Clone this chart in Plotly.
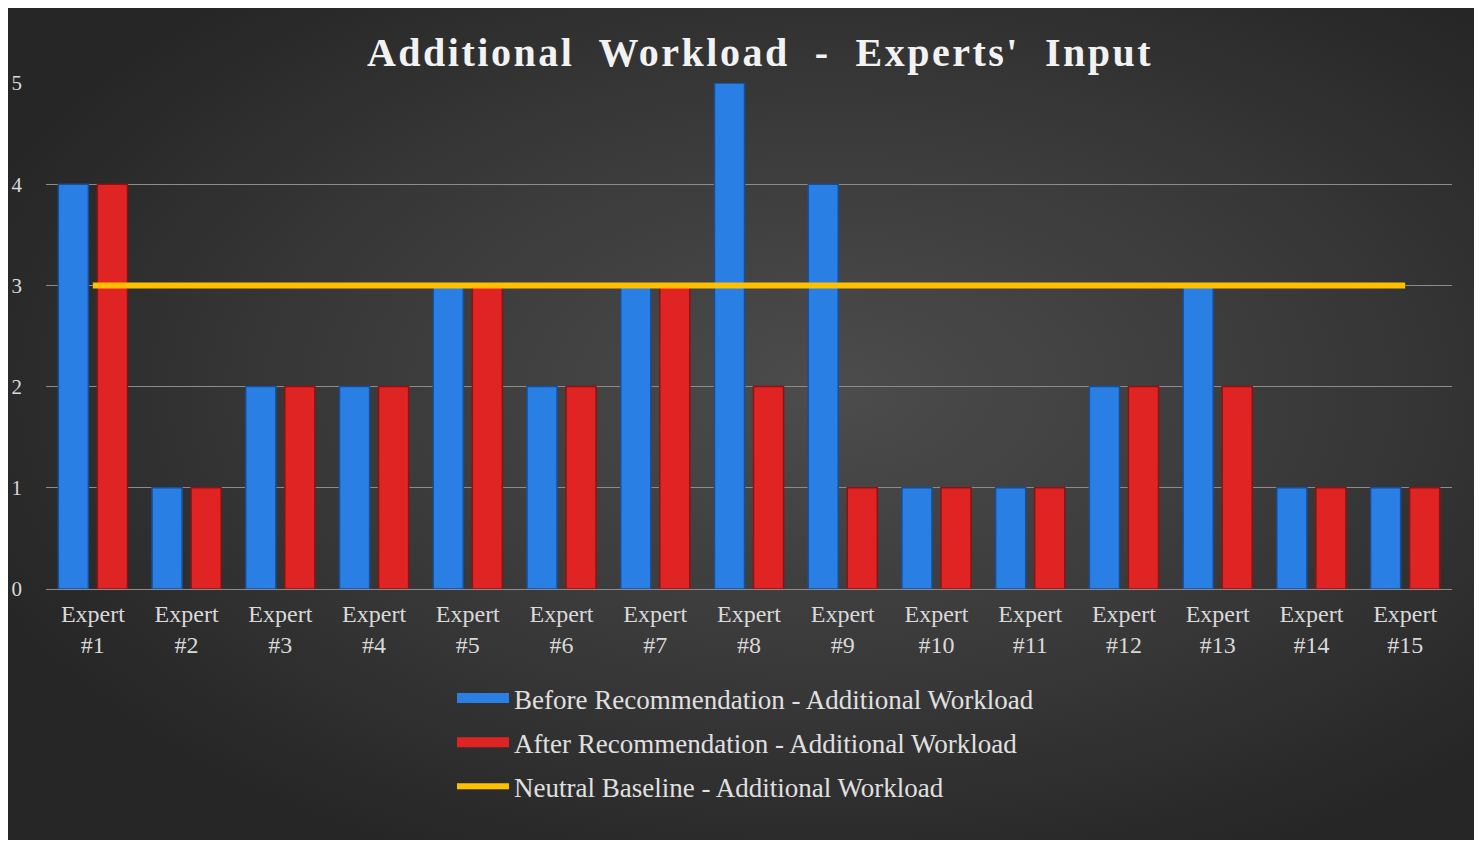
import base64
import plotly.graph_objects as go

experts = [f"Expert<br>#{i}" for i in range(1, 16)]
before = [4, 1, 2, 2, 3, 2, 3, 5, 4, 1, 1, 2, 3, 1, 1]
after = [4, 1, 2, 2, 3, 2, 3, 2, 1, 1, 1, 2, 2, 1, 1]
baseline = [3] * 15
y_ticks = [0, 1, 2, 3, 4, 5]

OFF = 8  # default page body margin
W, H = 1482 - OFF, 846 - OFF
L, R, T = 46 - OFF, W - (1452 - OFF), 83 - OFF
B = H - (589 - OFF)
pw, ph = W - L - R, H - T - B

def px_x(px):
    return (px - OFF - L) / pw

def px_y(py):
    return (H - B - (py - OFF)) / ph

svg = (
    "<svg xmlns='http://www.w3.org/2000/svg' width='1469' height='833' preserveAspectRatio='none'>"
    "<defs><radialGradient id='g' cx='56%' cy='46%' r='62%'>"
    "<stop offset='0' stop-color='#4c4c4c'/><stop offset='0.55' stop-color='#393939'/>"
    "<stop offset='1' stop-color='#262626'/></radialGradient></defs>"
    "<rect width='1469' height='833' fill='url(#g)'/></svg>"
)
src = "data:image/svg+xml;base64," + base64.b64encode(svg.encode()).decode()

font_family = "Liberation Serif, Times New Roman, serif"
BLUE, RED, GOLD = "#2a7fe4", "#e02424", "#ffc000"

fig = go.Figure()
fig.add_trace(go.Bar(
    x=experts, y=before, name="Before Recommendation - Additional Workload",
    marker=dict(color=BLUE, line=dict(color="#174e9c", width=1.5)),
    showlegend=False,
))
fig.add_trace(go.Bar(
    x=experts, y=after, name="After Recommendation - Additional Workload",
    marker=dict(color=RED, line=dict(color="#8c1313", width=1.5)),
    showlegend=False,
))
fig.add_trace(go.Scatter(
    x=experts, y=baseline, mode="lines", name="Neutral Baseline - Additional Workload",
    line=dict(color=GOLD, width=6), showlegend=False,
))
# legend-only entries (wide bar-like swatches as in the reference)
for nm, col, w, g in [
    ("Before Recommendation - Additional Workload", BLUE, 12, "a"),
    ("After Recommendation - Additional Workload", RED, 12, "b"),
    ("Neutral Baseline - Additional Workload", GOLD, 6, "c"),
]:
    fig.add_trace(go.Scatter(
        x=[None], y=[None], mode="lines", name=nm,
        line=dict(color=col, width=w), legendgroup=g,
    ))

x0, x1 = px_x(6), px_x(1475)
y0, y1 = px_y(840), px_y(7)

fig.update_layout(
    width=W, height=H,
    margin=dict(l=L, r=R, t=T, b=B, autoexpand=False),
    paper_bgcolor="white",
    plot_bgcolor="rgba(0,0,0,0)",
    barmode="group",
    bargap=0.167,
    bargroupgap=0.23,
    font=dict(family=font_family, color="#d9d9d9", size=20),
    title=dict(
        text="<b><span style='letter-spacing:2.5px'>Additional  Workload  -  Experts'  Input</span></b>",
        x=(760 - OFF) / W, xref="container", xanchor="center",
        y=1 - (52 - OFF) / H, yref="container", yanchor="middle",
        font=dict(family=font_family, size=40, color="#f2f2f2"),
    ),
    images=[dict(
        source=src, xref="paper", yref="paper",
        x=x0, y=y1, sizex=x1 - x0, sizey=y1 - y0,
        xanchor="left", yanchor="top", sizing="stretch", layer="below",
    )],
    xaxis=dict(
        showgrid=False, showline=False, ticks="", automargin=False,
        tickfont=dict(size=24, color="#d9d9d9"),
        ticklabelstandoff=8,
    ),
    yaxis=dict(
        range=[0, 5], tickvals=y_ticks, automargin=False,
        showgrid=True, gridcolor="#8c8c8c", gridwidth=1,
        zeroline=True, zerolinecolor="#8c8c8c", zerolinewidth=1,
        showline=False, ticks="",
        tickfont=dict(size=21, color="#d9d9d9"),
        ticklabelstandoff=23,
    ),
    legend=dict(
        orientation="v",
        x=px_x(452), xanchor="left",
        y=px_y(674), yanchor="top",
        bgcolor="rgba(0,0,0,0)",
        font=dict(size=27, color="#e0e0e0"),
        traceorder="grouped",
        tracegroupgap=6,
        itemwidth=52,
    ),
)

fig.write_html("out.html")
